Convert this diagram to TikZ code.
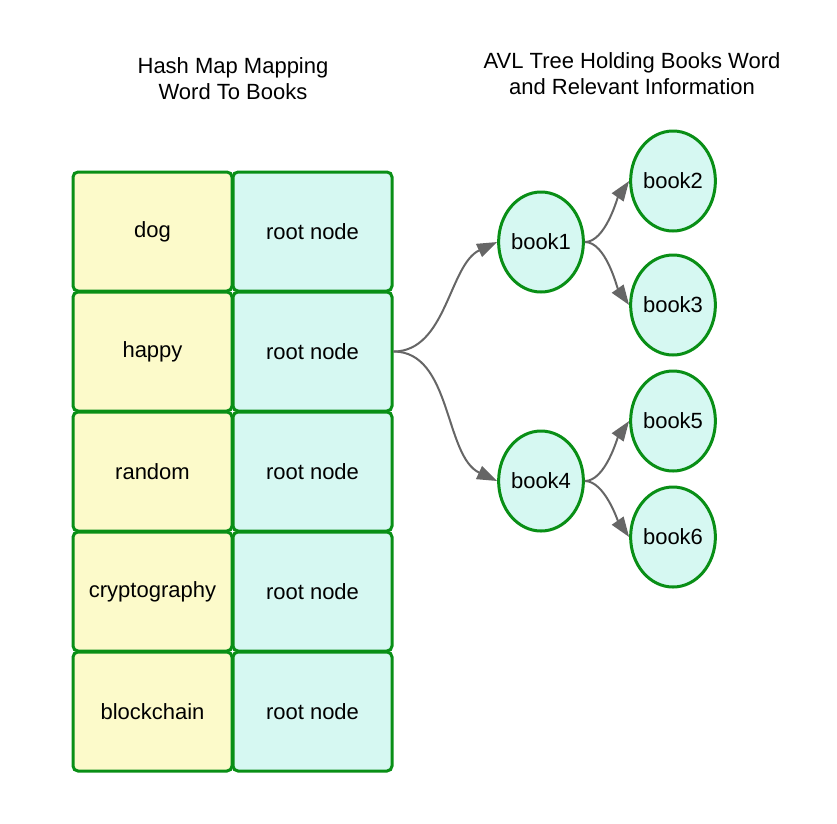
\documentclass[tikz,border=0pt]{standalone}
\usepackage{fontspec}
\setmainfont{Liberation Sans}
\usetikzlibrary{arrows.meta,shapes.geometric}
\definecolor{gborder}{HTML}{098F16}
\definecolor{yfill}{HTML}{FCFACA}
\definecolor{cfill}{HTML}{D6F8F2}
\definecolor{agray}{HTML}{666666}
\begin{document}
\begin{tikzpicture}[x=1pt,y=-1pt,
  every node/.style={font=\fontsize{22}{26}\selectfont},
  cell/.style={draw=gborder,line width=3pt,rounded corners=5pt,minimum width=159pt,minimum height=119pt,inner sep=0pt},
  wordcell/.style={cell,fill=yfill},
  rootcell/.style={cell,fill=cfill},
  booknode/.style={draw=gborder,line width=3pt,fill=cfill,ellipse,minimum width=81pt,minimum height=100pt,inner sep=0pt},
  conn/.style={draw=agray,line width=2pt,-{Triangle[length=20pt,width=14pt]}},
  title/.style={align=center,font=\fontsize{22}{26}\selectfont}]
\useasboundingbox (0,0) rectangle (837,823);
\foreach \w [count=\i] in {dog,happy,random,cryptography,blockchain}{
  \node[wordcell] (w\i) at (152.5,{231.5+120*(\i-1)}) {\w};
  \node[rootcell] (r\i) at (312.5,{231.5+120*(\i-1)}) {root node};
}
\node[title] (t1) at (233,79) {Hash Map Mapping\\Word To Books};
\node[title] (t2) at (632,74) {AVL Tree Holding Books Word\\and Relevant Information};
\node[booknode] (b1) at (541,242) {book1};
\node[booknode] (b2) at (673,181) {book2};
\node[booknode] (b3) at (673,305) {book3};
\node[booknode] (b4) at (541,481) {book4};
\node[booknode] (b5) at (673,421) {book5};
\node[booknode] (b6) at (673,537) {book6};
\draw[conn] (r2.east) to[out=0,in=205,looseness=0.9] (b1.west);
\draw[conn] (r2.east) to[out=0,in=155,looseness=0.9] (b4.west);
\draw[conn] (b1.east) to[out=0,in=235,looseness=0.7] (b2.west);
\draw[conn] (b1.east) to[out=0,in=125,looseness=0.7] (b3.west);
\draw[conn] (b4.east) to[out=0,in=235,looseness=0.7] (b5.west);
\draw[conn] (b4.east) to[out=0,in=125,looseness=0.7] (b6.west);
\end{tikzpicture}
\end{document}
